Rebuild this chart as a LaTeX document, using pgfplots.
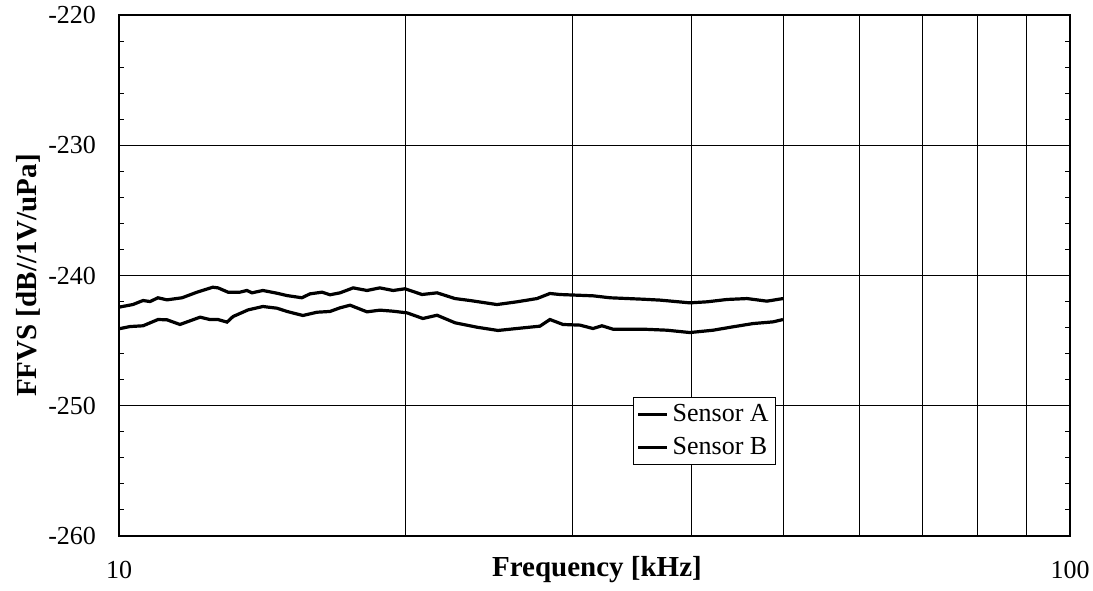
\documentclass[border=0pt]{standalone}
\usepackage{fontspec}
\setmainfont{Liberation Serif}
\usepackage{pgfplots}
\pgfplotsset{compat=1.18}
\begin{document}
\begin{tikzpicture}
\begin{axis}[
  name=ax, at={(0,0)}, anchor=south west,
  scale only axis, width=475.5pt, height=260.5pt,
  xmode=log, log basis x=10,
  xmin=10, xmax=100, ymin=-260, ymax=-220,
  xtick={10,100}, xticklabels={10,100},
  minor xtick={20,30,40,50,60,70,80,90},
  xminorgrids=true,
  ytick={-260,-250,-240,-230,-220},
  minor y tick num=4,
  ymajorgrids=true,
  major grid style={black, line width=0.5pt},
  minor grid style={black, line width=0.5pt},
  axis line style={black, line width=0.7pt},
  tick style={black, line width=0.5pt},
  major tick length=4pt, minor tick length=2.5pt,
  /pgf/number format/assume math mode=true,
  ticklabel style={font=\fontsize{13}{15}\selectfont},
  xticklabel style={yshift=-9pt},
  yticklabel style={xshift=-8pt, /pgf/number format/fixed},
  xlabel={\textbf{Frequency [kHz]}},
  ylabel={\textbf{FFVS [dB//1V/uPa]}},
  label style={font=\fontsize{14.5}{17}\selectfont},
  xlabel style={at={(axis description cs:0.5026,-0.064)}, anchor=center},
  ylabel style={at={(axis description cs:-0.0952,0.5)}, anchor=center},
  legend style={at={(rel axis cs:0.5405,0.2668)}, anchor=north west,
    draw=black, line width=0.5pt, fill=white,
    font=\fontsize{13}{15}\selectfont, inner sep=1.5pt, row sep=2.5pt},
  legend cell align=left,
  legend image code/.code={\draw[#1] (0pt,0pt) -- (14.5pt,0pt);},
]
\addplot[black, line width=1.6pt] coordinates {
(10.00,-242.43) (10.34,-242.23) (10.60,-241.92) (10.78,-242.00) (10.99,-241.71)
(11.23,-241.87) (11.65,-241.71) (12.08,-241.28) (12.55,-240.90) (12.71,-240.95)
(13.02,-241.28) (13.40,-241.28) (13.63,-241.15) (13.80,-241.33) (14.17,-241.15)
(14.66,-241.36) (15.02,-241.54) (15.57,-241.71) (15.88,-241.41) (16.35,-241.28)
(16.67,-241.48) (17.08,-241.33) (17.63,-240.95) (18.23,-241.15) (18.81,-240.95)
(19.42,-241.15) (19.99,-241.02) (20.83,-241.46) (21.60,-241.33) (22.56,-241.77)
(23.39,-241.92) (24.97,-242.23) (26.21,-242.02) (27.51,-241.77) (28.39,-241.38)
(29.09,-241.46) (31.51,-241.56) (32.83,-241.71) (35.56,-241.82) (37.07,-241.89)
(39.85,-242.10) (41.53,-242.02) (43.59,-241.84) (45.75,-241.77) (48.01,-241.97)
(49.91,-241.77)
};
\addlegendentry{Sensor A}
\addplot[black, line width=1.6pt] coordinates {
(10.00,-244.09) (10.27,-243.92) (10.60,-243.86) (10.99,-243.38) (11.23,-243.40)
(11.59,-243.76) (12.17,-243.20) (12.46,-243.38) (12.71,-243.38) (12.99,-243.58)
(13.18,-243.15) (13.67,-242.64) (14.17,-242.38) (14.66,-242.51) (15.02,-242.76)
(15.61,-243.07) (16.15,-242.82) (16.67,-242.76) (17.08,-242.48) (17.50,-242.28)
(18.23,-242.79) (18.81,-242.66) (19.42,-242.74) (20.09,-242.87) (20.87,-243.30)
(21.60,-243.05) (22.56,-243.63) (23.79,-243.97) (25.03,-244.22) (26.60,-244.02)
(27.71,-243.89) (28.39,-243.38) (29.30,-243.76) (30.53,-243.81) (31.51,-244.07)
(32.20,-243.86) (33.07,-244.12) (35.56,-244.12) (37.70,-244.20) (39.85,-244.38)
(42.14,-244.20) (44.22,-243.94) (46.42,-243.69) (48.72,-243.56) (49.91,-243.38)
};
\addlegendentry{Sensor B}
\end{axis}
\pgfresetboundingbox
\path (-59.5pt,-27pt) rectangle (487pt,268pt);
\end{tikzpicture}
\end{document}
